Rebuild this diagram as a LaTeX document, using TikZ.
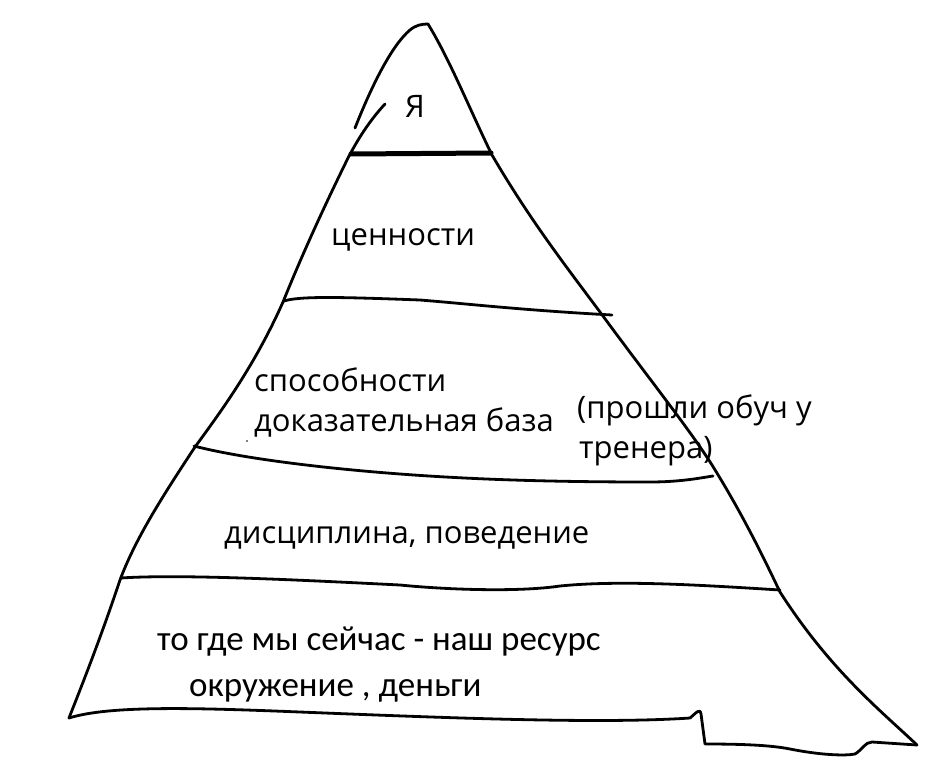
\documentclass[tikz,border=0pt]{standalone}
\usepackage{fontspec}
\setmainfont{Open Sans}
\newfontfamily\calfont{Carlito}
\begin{document}
\begin{tikzpicture}[x=1pt,y=-1pt,
  stroke/.style={line width=2.8pt,line cap=round,line join=round,black},
  lbl/.style={anchor=base west,inner sep=0pt,font=\fontsize{31}{36}\selectfont},
  lblb/.style={anchor=base west,inner sep=0pt,font=\calfont\fontsize{35}{40}\selectfont}]
\useasboundingbox (0,0) rectangle (933,770);
% outline
\coordinate (apex) at (428,24);
\draw[stroke] (355,128) .. controls (372,85) and (392,45) .. (410,30) .. controls (416,25) and (422,24) .. (apex);
\draw[stroke] (385,104) .. controls (372,118) and (360,135) .. (348,158)
  .. controls (320,215) and (300,260) .. (283,302)
  .. controls (255,365) and (222,410) .. (195,447)
  .. controls (160,500) and (135,540) .. (120,580)
  .. controls (100,640) and (80,690) .. (69,718);
\draw[stroke] (apex) .. controls (450,60) and (470,110) .. (492,155)
  .. controls (530,220) and (565,265) .. (600,312)
  .. controls (650,380) and (690,430) .. (712,465)
  .. controls (740,510) and (760,550) .. (780,592)
  .. controls (830,670) and (880,710) .. (917,745);
% bottom edge
\draw[stroke] (69,718) .. controls (110,705) and (200,708) .. (300,712)
  .. controls (450,718) and (600,724) .. (690,718)
  .. controls (697,712) and (700,708) .. (701,714)
  -- (705,744) .. controls (740,744) and (770,745) .. (790,749)
  .. controls (820,755) and (845,756) .. (855,754)
  .. controls (862,750) and (865,742) .. (872,742)
  -- (917,745);
% divider lines
\draw[line width=5pt,line cap=round] (351,154) -- (491,153);
\draw[stroke] (284,301) .. controls (300,296) and (340,297) .. (420,300)
  .. controls (470,304) and (520,310) .. (612,315);
\draw[stroke] (194,446) .. controls (240,458) and (320,468) .. (400,474)
  .. controls (480,480) and (560,482) .. (650,482)
  .. controls (680,482) and (700,478) .. (713,476);
\draw[stroke] (121,578) .. controls (180,574) and (300,580) .. (400,585)
  .. controls (450,590) and (520,592) .. (560,586)
  .. controls (620,580) and (700,585) .. (780,590);
\fill (247,441) circle (0.8);
% texts
\node[lbl] (ya) at (405,118) {Я};
\node[lbl] (values) at (331,245) {ценности};
\node[lbl] (abil) at (254,391) {способности};
\node[lbl] (proof) at (254,431) {доказательная база};
\node[lbl] (course1) at (577,418) {(прошли обуч у};
\node[lbl] (course2) at (579,458) {тренера)};
\node[lbl] (disc) at (224,543) {дисциплина, поведение};
\node[lblb] (res1) at (157,650) {то где мы сейчас - наш ресурс};
\node[lblb] (res2) at (189,696) {окружение , деньги};
\end{tikzpicture}
\end{document}
